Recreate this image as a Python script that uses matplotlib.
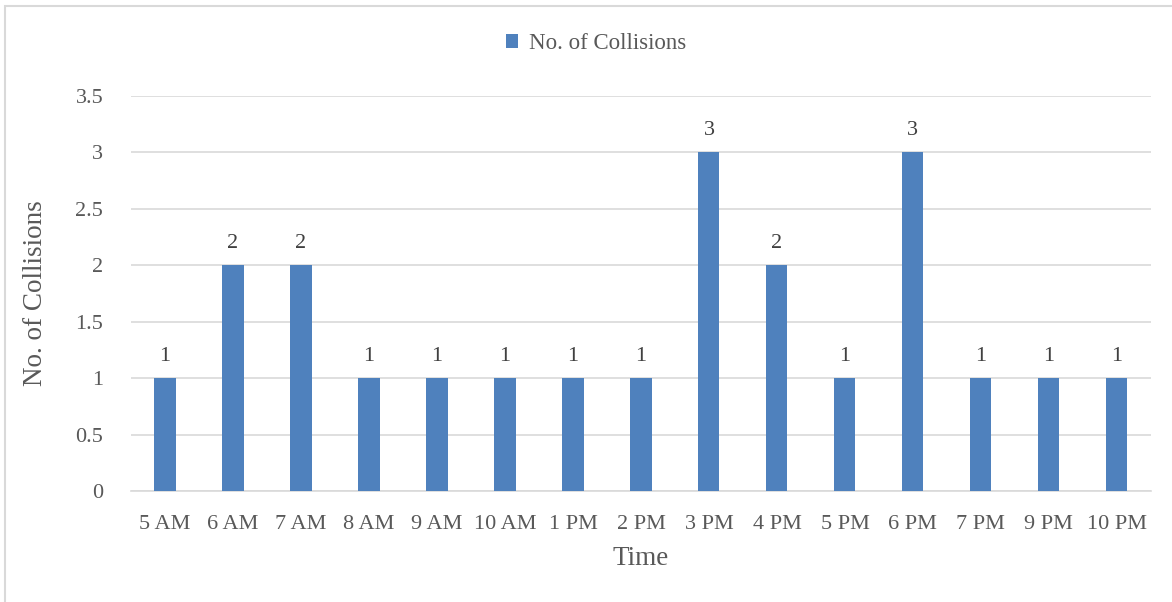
import matplotlib.pyplot as plt
import numpy as np

times = ['5 AM', '6 AM', '7 AM', '8 AM', '9 AM', '10 AM', '1 PM', '2 PM',
         '3 PM', '4 PM', '5 PM', '6 PM', '7 PM', '9 PM', '10 PM']
collisions = [1, 2, 2, 1, 1, 1, 1, 1, 3, 2, 1, 3, 1, 1, 1]

plt.rcParams['font.family'] = ['Liberation Serif', 'DejaVu Serif']
text_color = '#595959'

fig = plt.figure(figsize=(11.72, 6.02), dpi=100)
ax = fig.add_axes([0.1118, 0.1844, 0.8702, 0.6561])

x = np.arange(len(times))
bars = ax.bar(x, collisions, width=0.31, color='#4F81BD', label='No. of Collisions', zorder=3)
for xi, v in zip(x, collisions):
    ax.text(xi, v + 0.11, str(v), ha='center', va='bottom', fontsize=16, color='#404040')

ax.set_xlim(-0.5, len(times) - 0.5)
ax.set_ylim(0, 3.5)
ax.set_yticks(np.arange(0, 3.51, 0.5))
ax.set_yticklabels(['0', '0.5', '1', '1.5', '2', '2.5', '3', '3.5'])
ax.set_xticks(x)
ax.set_xticklabels(times)
ax.tick_params(axis='both', length=0, labelsize=16, colors=text_color)
ax.tick_params(axis='x', pad=17)
ax.tick_params(axis='y', pad=20)
ax.grid(axis='y', color='#D9D9D9', linewidth=1.2, zorder=0)
for s in ['top', 'right', 'left']:
    ax.spines[s].set_visible(False)
ax.spines['bottom'].set_color('#D9D9D9')
ax.spines['bottom'].set_linewidth(1.2)

ax.set_xlabel('Time', fontsize=19.5, color=text_color, labelpad=9)
ax.set_ylabel('No. of Collisions', fontsize=19.5, color=text_color, labelpad=20)

fig.legend(handles=[bars], labels=['No. of Collisions'], loc='center',
           bbox_to_anchor=(0.5085, 0.927), frameon=False, fontsize=16.5,
           handlelength=0.55, handleheight=0.55, handletextpad=0.45, labelcolor=text_color)

fig.patches.append(plt.Rectangle((0.0045, -0.05), 1.2, 1.04, transform=fig.transFigure,
                                 fill=False, edgecolor='#D9D9D9', linewidth=1.5))

fig.savefig('out.png', dpi=100)
